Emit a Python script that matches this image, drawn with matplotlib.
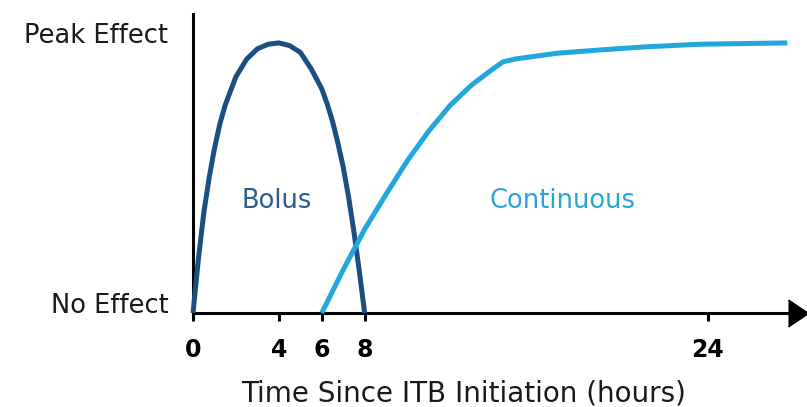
import matplotlib
matplotlib.use("Agg")
import matplotlib.pyplot as plt

# Bolus dose effect (hours, relative effect)
bolus_hours = [0, 0.25, 0.5, 0.75, 1, 1.25, 1.5, 2, 2.5, 3, 3.5, 4,
               4.5, 5, 5.5, 6, 6.25, 6.5, 6.75, 7, 7.25, 7.5, 7.75, 8]
bolus_effect = [0, 0.20, 0.37, 0.50, 0.61, 0.70, 0.77, 0.875, 0.94, 0.978, 0.995, 1.0,
                0.99, 0.965, 0.905, 0.83, 0.775, 0.71, 0.63, 0.54, 0.43, 0.30, 0.155, 0]

# Continuous infusion effect
cont_hours = [6, 7, 8, 9, 10, 11, 12, 13, 14, 14.45, 15, 15.7, 17, 19, 21, 23.6, 27.7]
cont_effect = [0, 0.16, 0.31, 0.44, 0.565, 0.675, 0.77, 0.845, 0.905, 0.93,
               0.94, 0.948, 0.962, 0.974, 0.985, 0.995, 1.0]

tick_hours = [0, 4, 6, 8, 24]
tick_labels = ["0", "4", "6", "8", "24"]

BOLUS_COLOR = "#1b4f80"
CONT_COLOR = "#22a7dc"

plt.rcParams["font.family"] = ["DejaVu Sans"]

fig = plt.figure(figsize=(8.07, 4.07), dpi=100)
ax = fig.add_axes([0.2392, 0.2310, 0.7497, 0.7346])

ax.plot(bolus_hours, bolus_effect, color=BOLUS_COLOR, linewidth=3.6,
        solid_capstyle="butt", solid_joinstyle="round", clip_on=False, zorder=3)
ax.plot(cont_hours, cont_effect, color=CONT_COLOR, linewidth=3.6,
        solid_capstyle="butt", solid_joinstyle="round", clip_on=False, zorder=3)

ax.set_xlim(0, 28.2)
ax.set_ylim(0, 1.107)

for side in ("top", "right"):
    ax.spines[side].set_visible(False)
for side in ("left", "bottom"):
    ax.spines[side].set_linewidth(2.2)
    ax.spines[side].set_color("black")

ax.set_yticks([])
ax.set_xticks(tick_hours)
ax.set_xticklabels(tick_labels, fontsize=17, fontweight="bold")
ax.tick_params(axis="x", direction="out", length=6, width=2.2, pad=12)

# arrow head on x axis
ax.plot([1], [0], marker=[(-1, -1.35), (1, 0), (-1, 1.35)], markersize=19.5,
        color="black", transform=ax.get_yaxis_transform(), clip_on=False, zorder=4)

ax.text(-1.15, 1.0, "Peak Effect", ha="right", va="baseline", fontsize=18.5,
        color="#1a1a1a", clip_on=False)
ax.text(-1.15, 0.0, "No Effect", ha="right", va="baseline", fontsize=18.5,
        color="#1a1a1a", clip_on=False)

ax.text(3.9, 0.39, "Bolus", ha="center", va="baseline", fontsize=18.5,
        color="#2b5c8a")
ax.text(17.2, 0.39, "Continuous", ha="center", va="baseline", fontsize=18.5,
        color="#2ba6d4")

ax.set_xlabel("Time Since ITB Initiation (hours)", fontsize=20, color="#1a1a1a")
ax.xaxis.set_label_coords(0.447, -0.2977)
ax.xaxis.label.set_va("baseline")

fig.savefig("out.png", dpi=100)
